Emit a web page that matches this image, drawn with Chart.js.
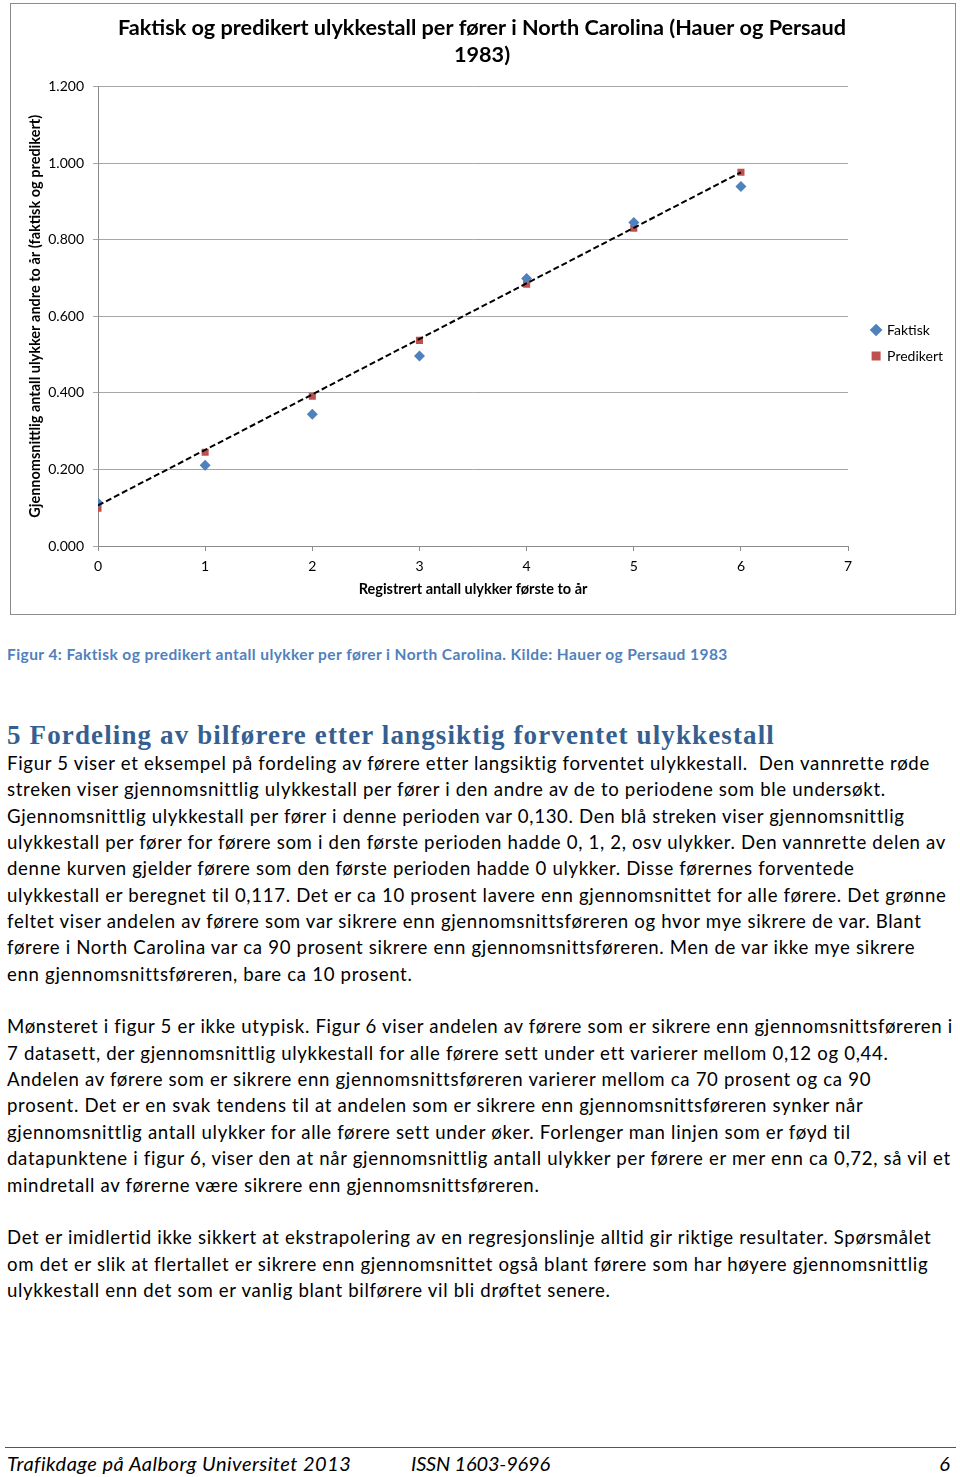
<!DOCTYPE html>
<html>
<head>
<meta charset="utf-8">
<script src="https://cdn.jsdelivr.net/npm/chart.js@4/dist/chart.umd.min.js"></script>
<style>
  html, body { margin: 0; padding: 0; background: #fff; }
  body { width: 960px; height: 1477px; position: relative; overflow: hidden; font-family: Lato, "Open Sans", sans-serif; color: #000; }
  #box { position: absolute; left: 10px; top: 3px; width: 946px; height: 612px; border: 1px solid #8c8c8c; box-sizing: border-box; }
  #c { position: absolute; left: 0; top: 0; }
  .cap { position: absolute; left: 7px; top: 645px; font-size: 15.5px; font-weight: bold; color: #4f81bd; white-space: nowrap; }
  .h { position: absolute; left: 7px; top: 720px; font-family: "Liberation Serif", serif; font-weight: bold; font-size: 27px; color: #365f91; white-space: nowrap; }
  .txt { position: absolute; left: 7px; top: 750px; font-size: 18.6px; line-height: 26.35px; white-space: nowrap; }
  .txt div { height: 26.35px; width: max-content; }
  .foot { position: absolute; top: 1447px; left: 5px; width: 951px; border-top: 1px solid #555; }
  .ft { position: absolute; top: 1451px; font-style: italic; font-size: 20px; white-space: nowrap; }
</style>
</head>
<body>
<div id="box"><canvas id="c" width="944" height="610"></canvas></div>

<div class="cap" data-w="721">Figur 4: Faktisk og predikert antall ulykker per fører i North Carolina. Kilde: Hauer og Persaud 1983</div>
<div class="h" data-w="768">5 Fordeling av bilførere etter langsiktig forventet ulykkestall</div>
<div class="txt">
<div id="l1">Figur 5 viser et eksempel på fordeling av førere etter langsiktig forventet ulykkestall.&nbsp; Den vannrette røde</div>
<div>streken viser gjennomsnittlig ulykkestall per fører i den andre av de to periodene som ble undersøkt.</div>
<div>Gjennomsnittlig ulykkestall per fører i denne perioden var 0,130. Den blå streken viser gjennomsnittlig</div>
<div>ulykkestall per fører for førere som i den første perioden hadde 0, 1, 2, osv ulykker. Den vannrette delen av</div>
<div>denne kurven gjelder førere som den første perioden hadde 0 ulykker. Disse førernes forventede</div>
<div>ulykkestall er beregnet til 0,117. Det er ca 10 prosent lavere enn gjennomsnittet for alle førere. Det grønne</div>
<div>feltet viser andelen av førere som var sikrere enn gjennomsnittsføreren og hvor mye sikrere de var. Blant</div>
<div>førere i North Carolina var ca 90 prosent sikrere enn gjennomsnittsføreren. Men de var ikke mye sikrere</div>
<div>enn gjennomsnittsføreren, bare ca 10 prosent.</div>
<div></div>
<div>Mønsteret i figur 5 er ikke utypisk. Figur 6 viser andelen av førere som er sikrere enn gjennomsnittsføreren i</div>
<div>7 datasett, der gjennomsnittlig ulykkestall for alle førere sett under ett varierer mellom 0,12 og 0,44.</div>
<div>Andelen av førere som er sikrere enn gjennomsnittsføreren varierer mellom ca 70 prosent og ca 90</div>
<div>prosent. Det er en svak tendens til at andelen som er sikrere enn gjennomsnittsføreren synker når</div>
<div>gjennomsnittlig antall ulykker for alle førere sett under øker. Forlenger man linjen som er føyd til</div>
<div>datapunktene i figur 6, viser den at når gjennomsnittlig antall ulykker per førere er mer enn ca 0,72, så vil et</div>
<div>mindretall av førerne være sikrere enn gjennomsnittsføreren.</div>
<div></div>
<div>Det er imidlertid ikke sikkert at ekstrapolering av en regresjonslinje alltid gir riktige resultater. Spørsmålet</div>
<div>om det er slik at flertallet er sikrere enn gjennomsnittet også blant førere som har høyere gjennomsnittlig</div>
<div>ulykkestall enn det som er vanlig blant bilførere vil bli drøftet senere.</div>
</div>

<div class="foot"></div>
<div class="ft" style="left:7px" data-w="344">Trafikdage på Aalborg Universitet 2013</div>
<div class="ft" style="left:411px" data-w="139">ISSN 1603-9696</div>
<div class="ft" style="right:10px">6</div>

<script>
// ---- data ----
const accidentsFirstPeriod = [0, 1, 2, 3, 4, 5, 6];
const actualSecondPeriod   = [0.112, 0.211, 0.344, 0.496, 0.699, 0.845, 0.939];
const predictedSecondPeriod = [0.099, 0.245, 0.391, 0.537, 0.684, 0.830, 0.976];
const trendX = [0, 6];
const trendY = [0.106, 0.976];
const seriesNames = ['Faktisk', 'Predikert'];
const chartTitle = ['Faktisk og predikert ulykkestall per fører i North Carolina (Hauer og Persaud', '1983)'];
const xTitle = 'Registrert antall ulykker første to år';
const yTitle = 'Gjennomsnittlig antall ulykker andre to år (faktisk og predikert)';

// text tracking fit (letter-spacing only)
function fitSpacing(el, target) {
  const n = el.textContent.length;
  const w = el.getBoundingClientRect().width;
  el.style.letterSpacing = ((target - w) / n) + 'px';
}
document.querySelectorAll('[data-w]').forEach(el => fitSpacing(el, +el.dataset.w));
(function () {
  const l1 = document.getElementById('l1');
  const n = l1.textContent.length;
  const w = l1.getBoundingClientRect().width;
  document.querySelector('.txt').style.letterSpacing = ((922 - w) / n) + 'px';
})();

const pts = (xs, ys) => xs.map((x, i) => ({ x: x, y: ys[i] }));

// nudge legend and title horizontally after layout (Excel-style placement)
const nudge = {
  id: 'nudge',
  afterLayout(chart) {
    const lg = chart.legend;
    if (lg) { lg.left += 12; lg.right += 12; }
    const t = chart.titleBlock;
    if (t) { t.left += 12; }
  }
};

new Chart(document.getElementById('c'), {
  type: 'scatter',
  data: {
    datasets: [
      { label: seriesNames[0], data: pts(accidentsFirstPeriod, actualSecondPeriod),
        pointStyle: 'rectRot', pointRadius: 5.5, backgroundColor: '#4f81bd', borderColor: '#4f81bd', borderWidth: 0, order: 1 },
      { label: seriesNames[1], data: pts(accidentsFirstPeriod, predictedSecondPeriod),
        pointStyle: 'rect', pointRadius: 5, backgroundColor: '#c0504d', borderColor: '#c0504d', borderWidth: 0, order: 2 },
      { label: 'trend', data: pts(trendX, trendY), showLine: true, pointRadius: 0,
        borderColor: '#000', borderWidth: 2, borderDash: [6, 3], order: 0 }
    ]
  },
  plugins: [nudge],
  options: {
    responsive: false,
    animation: false,
    devicePixelRatio: 1,
    layout: { padding: { left: 0, right: 14, top: 0, bottom: 0 } },
    plugins: {
      tooltip: { enabled: false },
      title: { display: true, text: chartTitle, color: '#000',
        font: { family: 'Lato', size: 21.65, weight: 'bold', lineHeight: 1.26 },
        padding: { top: 10, bottom: 18 } },
      legend: { position: 'right',
        title: { display: true, text: ' ', font: { size: 10 }, padding: 28 },
        labels: { usePointStyle: true, color: '#000', font: { family: 'Lato', size: 14 }, padding: 12, boxWidth: 8, boxHeight: 9,
          filter: (item) => item.text !== 'trend' } }
    },
    scales: {
      x: { type: 'linear', min: 0, max: 7,
        ticks: { stepSize: 1, color: '#000', font: { family: 'Lato', size: 14 }, padding: 7 },
        grid: { drawOnChartArea: false, drawTicks: true, tickLength: 5, color: '#8c8c8c' },
        border: { color: '#8c8c8c' },
        title: { display: true, text: xTitle, color: '#000', font: { family: 'Lato', size: 14.5, weight: 'bold' }, padding: { top: 2, bottom: 16 } },
        afterFit: (s) => { s.height = 68; } },
      y: { type: 'linear', min: 0, max: 1.2,
        ticks: { stepSize: 0.2, color: '#000', font: { family: 'Lato', size: 14 }, padding: 9,
          callback: (v) => Number(v).toFixed(3) },
        grid: { color: '#a6a6a6', tickLength: 5 },
        border: { color: '#8c8c8c' },
        title: { display: true, text: yTitle, color: '#000', font: { family: 'Lato', size: 14.5, weight: 'bold' }, padding: { top: 16, bottom: 0 } },
        afterFit: (s) => { s.width = 87; } }
    }
  }
});
</script>
</body>
</html>
